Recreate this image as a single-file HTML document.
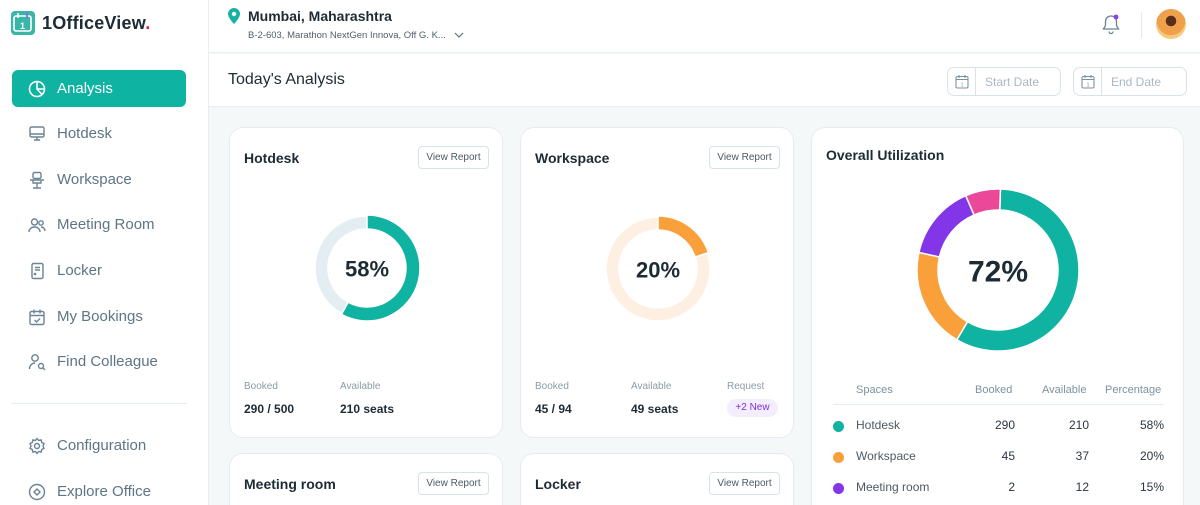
<!DOCTYPE html>
<html><head><meta charset="utf-8">
<style>
*{box-sizing:border-box;margin:0;padding:0}
html{width:1200px;height:505px;overflow:hidden}
body{width:1200px;height:505px;overflow:hidden;font-family:"Liberation Sans",sans-serif;background:#f5f8f9;position:relative;color:#1f2a33}
.sidebar{position:absolute;left:0;top:0;width:209px;height:505px;background:#fff;border-right:1px solid #e6eef1}
.logo{position:absolute;left:11px;top:10px;display:flex;align-items:center}
.logo-txt{font-size:18px;font-weight:bold;color:#1d2b35;margin-left:7px;letter-spacing:0.2px}
.nav{position:absolute;left:12px;width:174px;height:37px;font-size:15px;color:#5d7585}
.nav svg{position:absolute;left:16px;top:10px}
.nav span{position:absolute;left:45px;top:10px}
.nav.active{background:#0fb3a2;border-radius:6px;color:#fff}
.hdr{position:absolute;left:209px;top:0;right:0;height:53px;background:#fff;border-bottom:1px solid #e6eef1}
.sub{position:absolute;left:209px;top:54px;right:0;height:53px;background:#fff;border-bottom:1px solid #e6eef1}
.card{position:absolute;background:#fff;border:1px solid #e3edf1;border-radius:14px}
.card.cut{border-bottom:none;border-bottom-left-radius:0;border-bottom-right-radius:0}
.ctitle{position:absolute;left:14px;top:22px;font-size:14px;font-weight:bold;color:#1d2b35}
.vr{position:absolute;right:13px;top:18px;width:71px;height:23px;border:1px solid #d6e3e8;border-radius:4px;font-size:10px;color:#4a5a66;text-align:center;line-height:21px}
.lbl{position:absolute;font-size:10px;color:#8a9ca8}
.val{position:absolute;font-size:12px;font-weight:bold;color:#1d2b35}
.date{position:absolute;top:67px;width:114px;height:29px;border:1px solid #d6e3e8;border-radius:7px;font-size:12px;color:#a9b8c1}
.date .ic{position:absolute;left:0;top:0;width:28px;height:27px;border-right:1px solid #d6e3e8}
.date span{position:absolute;left:37px;top:7px}
.th{position:absolute;top:384px;font-size:11px;color:#7d92a0}
.td{position:absolute;font-size:12px;color:#2b3640}
.tn{position:absolute;font-size:12px;color:#4c5a64}
.dot{position:absolute;left:833px;width:11px;height:11px;border-radius:50%}
</style></head><body>
<div class="sidebar">
  <div class="logo">
    <svg width="24" height="26" viewBox="0 0 24 26"><rect x="0" y="1" width="24" height="24" rx="4" fill="#39b6a6"/><rect x="3" y="6" width="17" height="15" rx="2" fill="none" stroke="#fff" stroke-width="1.6"/><line x1="7" y1="3" x2="7" y2="8" stroke="#fff" stroke-width="1.6"/><line x1="16" y1="3" x2="16" y2="8" stroke="#8a5cf0" stroke-width="1.6"/><text x="11.5" y="19" font-size="9" font-weight="bold" fill="#fff" text-anchor="middle" font-family="Liberation Sans">1</text></svg>
    <span class="logo-txt">1OfficeView<span style="color:#e8174a">.</span></span>
  </div>
  <div class="nav active" style="top:70px"><svg width="18" height="18" viewBox="0 0 18 18" fill="none" stroke="#fff" stroke-width="1.6"><circle cx="9" cy="9" r="7.5"/><path d="M9 1.5V9H16.5M9 9L14 14.5"/></svg><span>Analysis</span></div>
  <div class="nav" style="top:115px"><svg width="18" height="18" viewBox="0 0 18 18" fill="none" stroke="#6a8494" stroke-width="1.4"><rect x="2" y="2" width="14" height="10" rx="1.5"/><path d="M2 9h14M6 15h6M9 12v3"/></svg><span>Hotdesk</span></div>
  <div class="nav" style="top:161px"><svg width="18" height="18" viewBox="0 0 18 18" fill="none" stroke="#6a8494" stroke-width="1.4"><rect x="5" y="1.5" width="8" height="6" rx="1.5"/><path d="M2 9h14M5 9v3h8V9M9 12v5M5 17h8"/></svg><span>Workspace</span></div>
  <div class="nav" style="top:206px"><svg width="18" height="18" viewBox="0 0 18 18" fill="none" stroke="#6a8494" stroke-width="1.4"><circle cx="6.5" cy="6" r="3"/><circle cx="13" cy="7" r="2.2"/><path d="M1 16c0-3 2.5-5 5.5-5s5.5 2 5.5 5M13 11c2 0 4 1.5 4 4"/></svg><span>Meeting Room</span></div>
  <div class="nav" style="top:252px"><svg width="18" height="18" viewBox="0 0 18 18" fill="none" stroke="#6a8494" stroke-width="1.4"><rect x="4" y="1.5" width="11" height="15" rx="1.5"/><path d="M7 5.5h5M7 8h5"/><circle cx="7" cy="12" r=".6"/></svg><span>Locker</span></div>
  <div class="nav" style="top:298px"><svg width="18" height="18" viewBox="0 0 18 18" fill="none" stroke="#6a8494" stroke-width="1.4"><rect x="2" y="3.5" width="14" height="13" rx="1.5"/><path d="M2 7.5h14M6 1.5v4M12 1.5v4M6.5 12l2 2 3.5-3.5"/></svg><span>My Bookings</span></div>
  <div class="nav" style="top:343px"><svg width="18" height="18" viewBox="0 0 18 18" fill="none" stroke="#6a8494" stroke-width="1.4"><circle cx="7" cy="5" r="3.2"/><path d="M1.5 16c0-3.5 2.5-6 5.5-6"/><circle cx="13" cy="13" r="2.5"/><path d="M15 15l2 2"/></svg><span>Find Colleague</span></div>
  <div style="position:absolute;left:11px;top:403px;width:176px;height:1px;background:#e6eef1"></div>
  <div class="nav" style="top:427px"><svg width="18" height="18" viewBox="0 0 18 18" fill="none" stroke="#6a8494" stroke-width="1.4"><circle cx="9" cy="9" r="2.5"/><path d="M9 1.5l1.6 2 2.5-.6.6 2.5 2.3 1.2-1 2.4 1 2.4-2.3 1.2-.6 2.5-2.5-.6L9 16.5l-1.6-2-2.5.6-.6-2.5L2 11.4l1-2.4-1-2.4 2.3-1.2.6-2.5 2.5.6z"/></svg><span>Configuration</span></div>
  <div class="nav" style="top:468px;height:37px"><svg width="18" height="18" viewBox="0 0 18 18" fill="none" stroke="#6a8494" stroke-width="1.4" style="top:15px"><circle cx="9" cy="9" r="7.5"/><path d="M9 6l3 3-3 3-3-3z"/></svg><span style="top:15px">Explore Office</span></div>
</div>

<div class="hdr">
  <svg style="position:absolute;left:19px;top:8px" width="12" height="16" viewBox="0 0 12 16"><path d="M6 0C2.7 0 0 2.6 0 5.9 0 10 6 16 6 16s6-6 6-10.1C12 2.6 9.3 0 6 0z" fill="#16b3a2"/><circle cx="6" cy="6" r="2.2" fill="#fff"/></svg>
  <div style="position:absolute;left:39px;top:8px;font-size:14px;font-weight:bold;color:#1d2b35">Mumbai, Maharashtra</div>
  <div style="position:absolute;left:39px;top:30px;font-size:9.5px;color:#4f5f6a">B-2-603, Marathon NextGen Innova, Off G. K...</div>
  <svg style="position:absolute;left:245px;top:31px" width="10" height="8" viewBox="0 0 10 8"><path d="M1 2l4 4 4-4" fill="none" stroke="#5d7585" stroke-width="1.2"/></svg>
  <svg style="position:absolute;left:892px;top:13px" width="20" height="22" viewBox="0 0 20 22"><path d="M10 3c-3.3 0-5.5 2.5-5.5 5.5v4L2.5 16h15l-2-3.5v-4C15.5 5.5 13.3 3 10 3zM8 18.5a2 2 0 004 0" fill="none" stroke="#6a8494" stroke-width="1.3"/><circle cx="15" cy="4" r="2.4" fill="#8a3ef0"/></svg>
  <div style="position:absolute;left:932px;top:12px;width:1px;height:26px;background:#e1e9ed"></div>
  <div style="position:absolute;left:947px;top:9px;width:30px;height:30px;border-radius:50%;background:radial-gradient(circle at 50% 40%,#5a2f1a 0 22%,#f0a04b 23% 60%,#f7c97a 61%)"></div>
</div>

<div class="sub">
  <div style="position:absolute;left:19px;top:17px;font-size:16px;color:#1d2b35">Today's Analysis</div>
</div>
<div class="date" style="left:947px"><div class="ic"><svg style="position:absolute;left:7px;top:6px" width="14" height="15" viewBox="0 0 14 15" fill="none" stroke="#7d92a0" stroke-width="1.1"><rect x="1" y="2.5" width="12" height="11.5" rx="1.5"/><path d="M1 5.5h12M4 1v3M10 1v3"/><text x="7" y="12.5" font-size="5.5" fill="#7d92a0" stroke="none" text-anchor="middle" font-family="Liberation Sans">1</text></svg></div><span>Start Date</span></div>
<div class="date" style="left:1073px"><div class="ic"><svg style="position:absolute;left:7px;top:6px" width="14" height="15" viewBox="0 0 14 15" fill="none" stroke="#7d92a0" stroke-width="1.1"><rect x="1" y="2.5" width="12" height="11.5" rx="1.5"/><path d="M1 5.5h12M4 1v3M10 1v3"/><text x="7" y="12.5" font-size="5.5" fill="#7d92a0" stroke="none" text-anchor="middle" font-family="Liberation Sans">1</text></svg></div><span>End Date</span></div>

<div class="card" style="left:229px;top:127px;width:274px;height:311px">
  <div class="ctitle">Hotdesk</div>
  <div class="vr">View Report</div>
  <svg id="d1" style="position:absolute;left:0;top:0" width="272" height="240"></svg>
  <div class="lbl" style="left:14px;top:253px">Booked</div>
  <div class="val" style="left:14px;top:274px">290 / 500</div>
  <div class="lbl" style="left:110px;top:253px">Available</div>
  <div class="val" style="left:110px;top:274px">210 seats</div>
</div>

<div class="card" style="left:520px;top:127px;width:274px;height:311px">
  <div class="ctitle">Workspace</div>
  <div class="vr">View Report</div>
  <svg id="d2" style="position:absolute;left:0;top:0" width="272" height="240"></svg>
  <div class="lbl" style="left:14px;top:253px">Booked</div>
  <div class="val" style="left:14px;top:274px">45 / 94</div>
  <div class="lbl" style="left:110px;top:253px">Available</div>
  <div class="val" style="left:110px;top:274px">49 seats</div>
  <div class="lbl" style="left:206px;top:253px">Request</div>
  <div style="position:absolute;left:206px;top:271px;width:51px;height:18px;border-radius:9px;background:#f4edfd;color:#7a2fe0;font-size:10px;text-align:center;line-height:18px">+2 New</div>
</div>

<div class="card cut" style="left:229px;top:453px;width:274px;height:52px">
  <div class="ctitle">Meeting room</div>
  <div class="vr">View Report</div>
</div>
<div class="card cut" style="left:520px;top:453px;width:274px;height:52px">
  <div class="ctitle">Locker</div>
  <div class="vr">View Report</div>
</div>

<div class="card cut" style="left:811px;top:127px;width:373px;height:378px">
  <div class="ctitle" style="top:19px">Overall Utilization</div>
</div>
<svg id="d3" style="position:absolute;left:811px;top:127px" width="373" height="250"></svg>
<div class="th" style="left:856px">Spaces</div>
<div class="th" style="left:975px">Booked</div>
<div class="th" style="left:1042px">Available</div>
<div class="th" style="left:1105px">Percentage</div>
<div style="position:absolute;left:833px;top:404px;width:331px;height:1px;background:#e6eef1"></div>
<div id="rows"></div>

<script>
const NS='http://www.w3.org/2000/svg';
const spaces=['Hotdesk','Workspace','Meeting room'];
const booked=[290,45,2];
const available=[210,37,12];
const overallPct=[58,20,15,7];
const overallColors=['#10b2a1','#f9a03a','#8236e8','#ec4899'];
const hotdeskPct=58, workspacePct=20, overallTotal=72;

function arcPath(cx,cy,r0,r1,a0,a1){
  const p=(r,a)=>[cx+r*Math.sin(a),cy-r*Math.cos(a)];
  const large=(a1-a0)>Math.PI?1:0;
  const [x1,y1]=p(r1,a0),[x2,y2]=p(r1,a1),[x3,y3]=p(r0,a1),[x4,y4]=p(r0,a0);
  return `M${x1} ${y1}A${r1} ${r1} 0 ${large} 1 ${x2} ${y2}L${x3} ${y3}A${r0} ${r0} 0 ${large} 0 ${x4} ${y4}Z`;
}
function seg(svg,cx,cy,r0,r1,a0,a1,fill,name){
  const p=document.createElementNS(NS,'path');
  p.setAttribute('d',arcPath(cx,cy,r0,r1,a0,a1));
  p.setAttribute('fill',fill);
  p.setAttribute('stroke','#fff');p.setAttribute('stroke-width','1.5');
  
  
  svg.appendChild(p);
}
function label(svg,cx,cy,txt,size,name){
  const t=document.createElementNS(NS,'text');
  t.setAttribute('x',cx);t.setAttribute('y',cy);
  t.setAttribute('text-anchor','middle');t.setAttribute('dominant-baseline','central');
  t.setAttribute('font-size',size);t.setAttribute('fill','#1d2b35');
  t.setAttribute('font-weight','bold');
  t.setAttribute('font-family','Liberation Sans, sans-serif');
  t.textContent=txt;
  
  
  svg.appendChild(t);
}
const TAU=Math.PI*2;
function single(id,pct,col,track,cx,cy,name){
  const s=document.getElementById(id);
  const a=pct/100*TAU;
  seg(s,cx,cy,39,52,a,TAU-0.0001,track,name+'-remaining');
  seg(s,cx,cy,39,53,0,a,col,name+'-arc');
  label(s,cx,cy+1,pct+'%',22,name+'-percent');
}
single('d1',hotdeskPct,'#10b2a1','#e4eef2',137,140,'hotdesk');
single('d2',workspacePct,'#f9a03a','#fdf0e3',137,141,'workspace');
(function(){
  const s=document.getElementById('d3');let a=0.03;
  const tot=overallPct.reduce((x,y)=>x+y,0);
  overallPct.forEach((v,i)=>{const b=a+v/tot*TAU;seg(s,187,143,60,81,a,b,overallColors[i],'overall-segment-'+i);a=b;});
  label(s,187,145,overallTotal+'%',30,'overall-percent');
})();
(function(){
  const rows=document.getElementById('rows');
  spaces.forEach((n,i)=>{
    const y=420+i*31;
    const html=`<div class="dot" style="top:${y+1}px;background:${overallColors[i]}"></div>
<div class="tn" style="left:856px;top:${y-2}px">${n}</div>
<div class="td" style="left:960px;width:55px;text-align:right;top:${y-2}px">${booked[i]}</div>
<div class="td" style="left:1030px;width:59px;text-align:right;top:${y-2}px">${available[i]}</div>
<div class="td" style="left:1100px;width:64px;text-align:right;top:${y-2}px">${overallPct[i]}%</div>`;
    const w=document.createElement('div');w.innerHTML=html;
    
    
    rows.appendChild(w);
  });
})();
</script>
</body></html>
